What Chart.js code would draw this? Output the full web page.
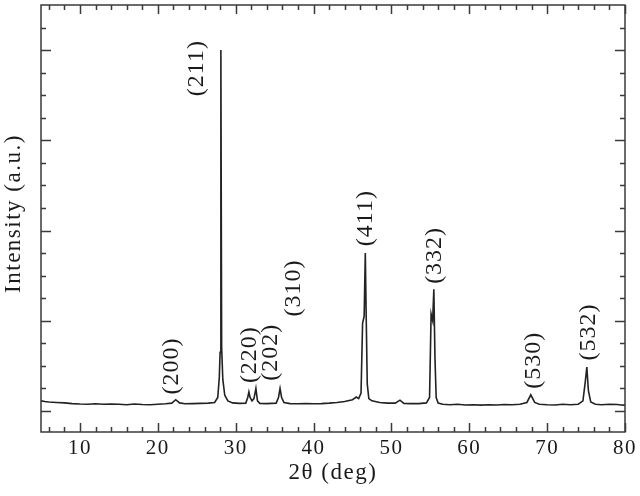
<!DOCTYPE html>
<html>
<head>
<meta charset="utf-8">
<script src="https://cdn.jsdelivr.net/npm/chart.js@4.4.1/dist/chart.umd.min.js"></script>
<style>
  html, body { margin: 0; padding: 0; background: #fff; }
  #wrap { width: 640px; height: 496px; }
</style>
</head>
<body>
<div id="wrap"><canvas id="xrd"></canvas></div>
<script>
// XRD pattern, values (intensity in arbitrary units)
const twoTheta = [
  5, 5.5, 6, 7, 8, 9, 10, 11, 12, 13,
  14, 15, 16, 17, 18, 19, 20, 21, 21.8, 22.3,
  22.8, 23.5, 24.5, 25.5, 26.5, 27.3, 27.7, 27.9, 28.0, 28.1,
  28.2, 28.35, 28.6, 29.0, 29.6, 30.5, 31.3, 31.55, 31.7, 31.85,
  32.1, 32.35, 32.6, 32.8, 33.1, 34.0, 35.2, 35.5, 35.7, 35.9,
  36.2, 37, 38, 39, 40, 41, 42, 43, 44, 45,
  45.5, 45.8, 46.1, 46.3, 46.5, 46.65, 46.75, 46.9, 47.1, 47.5,
  48.5, 49.5, 50.5, 51.1, 51.6, 52.5, 53.5, 54.5, 54.9, 55.1,
  55.3, 55.45, 55.6, 55.75, 56.0, 56.6, 57.5, 58.5, 59.5, 60.5,
  61.5, 62.5, 63.5, 64.5, 65.5, 66.5, 67.4, 67.9, 68.4, 69,
  70, 71, 72, 73, 74, 74.6, 74.9, 75.1, 75.3, 75.6,
  76.2, 77, 78, 79, 79.5, 80
];
const intensity = [
  0.45, 0.42, 0.40, 0.38, 0.36, 0.33, 0.31, 0.30, 0.32, 0.30,
  0.31, 0.30, 0.28, 0.31, 0.29, 0.28, 0.30, 0.32, 0.35, 0.50,
  0.36, 0.32, 0.33, 0.34, 0.35, 0.38, 0.60, 1.50, 2.60, 16.0,
  2.80, 1.40, 0.70, 0.45, 0.36, 0.34, 0.35, 0.60, 0.85, 0.60,
  0.45, 0.55, 1.00, 0.45, 0.34, 0.33, 0.35, 0.60, 1.00, 0.60,
  0.38, 0.33, 0.32, 0.33, 0.32, 0.33, 0.35, 0.38, 0.42, 0.50,
  0.62, 0.55, 0.80, 3.90, 4.20, 7.00, 4.50, 1.20, 0.55, 0.45,
  0.38, 0.35, 0.35, 0.48, 0.34, 0.33, 0.33, 0.36, 0.60, 4.30,
  4.00, 5.40, 2.30, 0.60, 0.35, 0.30, 0.28, 0.30, 0.27, 0.28,
  0.26, 0.28, 0.27, 0.29, 0.28, 0.30, 0.38, 0.72, 0.38, 0.30,
  0.28, 0.27, 0.30, 0.28, 0.30, 0.45, 1.30, 1.95, 0.90, 0.40,
  0.30, 0.28, 0.30, 0.29, 0.27, 0.26
];

// peak labels (Miller indices) and where they sit in data units
const peakLabels = ['(200)', '(211)', '(220)', '(202)', '(310)', '(411)', '(332)', '(530)', '(532)'];
const labelTheta = [21.8, 25.0, 31.8, 34.5, 37.4, 46.7, 55.6, 68.3, 75.4];
const labelInt   = [2.0, 15.2, 2.5, 2.6, 5.45, 8.55, 6.9, 2.25, 3.5];

// axis ticks
const xTicks = [6, 8, 10, 12, 14, 16, 18, 20, 22, 24, 26, 28, 30, 32, 34, 36, 38, 40,
  42, 44, 46, 48, 50, 52, 54, 56, 58, 60, 62, 64, 66, 68, 70, 72, 74, 76, 78, 80];
const yTicks = [0, 1, 2, 3, 4, 5, 6, 7, 8, 9, 10, 11, 12, 13, 14, 15, 16, 17];

const serif = '"Liberation Serif", "Times New Roman", serif';

// the scanned figure has loosely spaced lettering
const spacingPlugin = {
  id: 'spacing',
  beforeDraw(chart) { chart.ctx.letterSpacing = '1.5px'; }
};

// frame, inward ticks, y title and rotated peak labels
const framePlugin = {
  id: 'frame',
  afterDatasetsDraw(chart) {
    const { ctx, chartArea: a, scales: { x, y } } = chart;
    ctx.save();
    ctx.strokeStyle = '#3a3a3a';
    ctx.lineWidth = 1.5;
    ctx.strokeRect(a.left, a.top, a.right - a.left, a.bottom - a.top);

    ctx.beginPath();
    x.ticks.forEach(t => {
      const px = Math.round(x.getPixelForValue(t.value)) + 0.5;
      const len = t.value % 10 === 0 ? 9 : 5;
      ctx.moveTo(px, a.bottom); ctx.lineTo(px, a.bottom - len);
      ctx.moveTo(px, a.top); ctx.lineTo(px, a.top + len);
    });
    y.ticks.forEach(t => {
      const py = Math.round(y.getPixelForValue(t.value)) + 0.5;
      const len = t.value % 4 === 0 ? 10 : 5;
      ctx.moveTo(a.left, py); ctx.lineTo(a.left + len, py);
      ctx.moveTo(a.right, py); ctx.lineTo(a.right - len, py);
    });
    ctx.stroke();

    ctx.fillStyle = '#1a1a1a';
    ctx.textAlign = 'center';
    ctx.textBaseline = 'middle';

    // y axis title, sits a little above the middle in the original
    ctx.font = '23px ' + serif;
    ctx.letterSpacing = '1.5px';
    ctx.save();
    ctx.translate(a.left - 27, (a.top + a.bottom) / 2 - 5);
    ctx.rotate(-Math.PI / 2);
    ctx.fillText('Intensity (a.u.)', 0, 0);
    ctx.restore();

    ctx.font = '24px ' + serif;
    ctx.letterSpacing = '1px';
    peakLabels.forEach((lbl, i) => {
      ctx.save();
      ctx.translate(x.getPixelForValue(labelTheta[i]), y.getPixelForValue(labelInt[i]));
      ctx.rotate(-Math.PI / 2);
      ctx.fillText(lbl, 0, 0);
      ctx.restore();
    });
    ctx.restore();
  }
};

new Chart(document.getElementById('xrd'), {
  type: 'line',
  data: {
    datasets: [{
      data: twoTheta.map((t, i) => ({ x: t, y: intensity[i] })),
      borderColor: '#222',
      borderWidth: 1.6,
      pointRadius: 0,
      tension: 0,
      fill: false
    }]
  },
  options: {
    responsive: true,
    maintainAspectRatio: false,
    animation: false,
    layout: { padding: { top: 5, right: 15, left: 0, bottom: 0 } },
    plugins: { legend: { display: false }, tooltip: { enabled: false } },
    scales: {
      x: {
        type: 'linear',
        min: 5,
        max: 80,
        afterBuildTicks: s => { s.ticks = xTicks.map(v => ({ value: v })); },
        afterFit: s => { s.height = 64; },
        grid: { display: false, drawTicks: false },
        border: { display: false },
        ticks: {
          autoSkip: false,
          maxRotation: 0,
          padding: 4,
          color: '#1a1a1a',
          font: { family: serif, size: 21 },
          callback: v => (v % 10 === 0 ? String(v) : '')
        },
        title: {
          display: true,
          text: '2θ (deg)',
          color: '#1a1a1a',
          font: { family: serif, size: 23 },
          padding: { top: 0, bottom: 9 }
        }
      },
      y: {
        type: 'linear',
        min: -0.93,
        max: 18,
        afterBuildTicks: s => { s.ticks = yTicks.map(v => ({ value: v })); },
        afterFit: s => { s.width = 41; },
        grid: { display: false, drawTicks: false },
        border: { display: false },
        ticks: { display: false },
        title: { display: false }
      }
    }
  },
  plugins: [spacingPlugin, framePlugin]
});
</script>
</body>
</html>
